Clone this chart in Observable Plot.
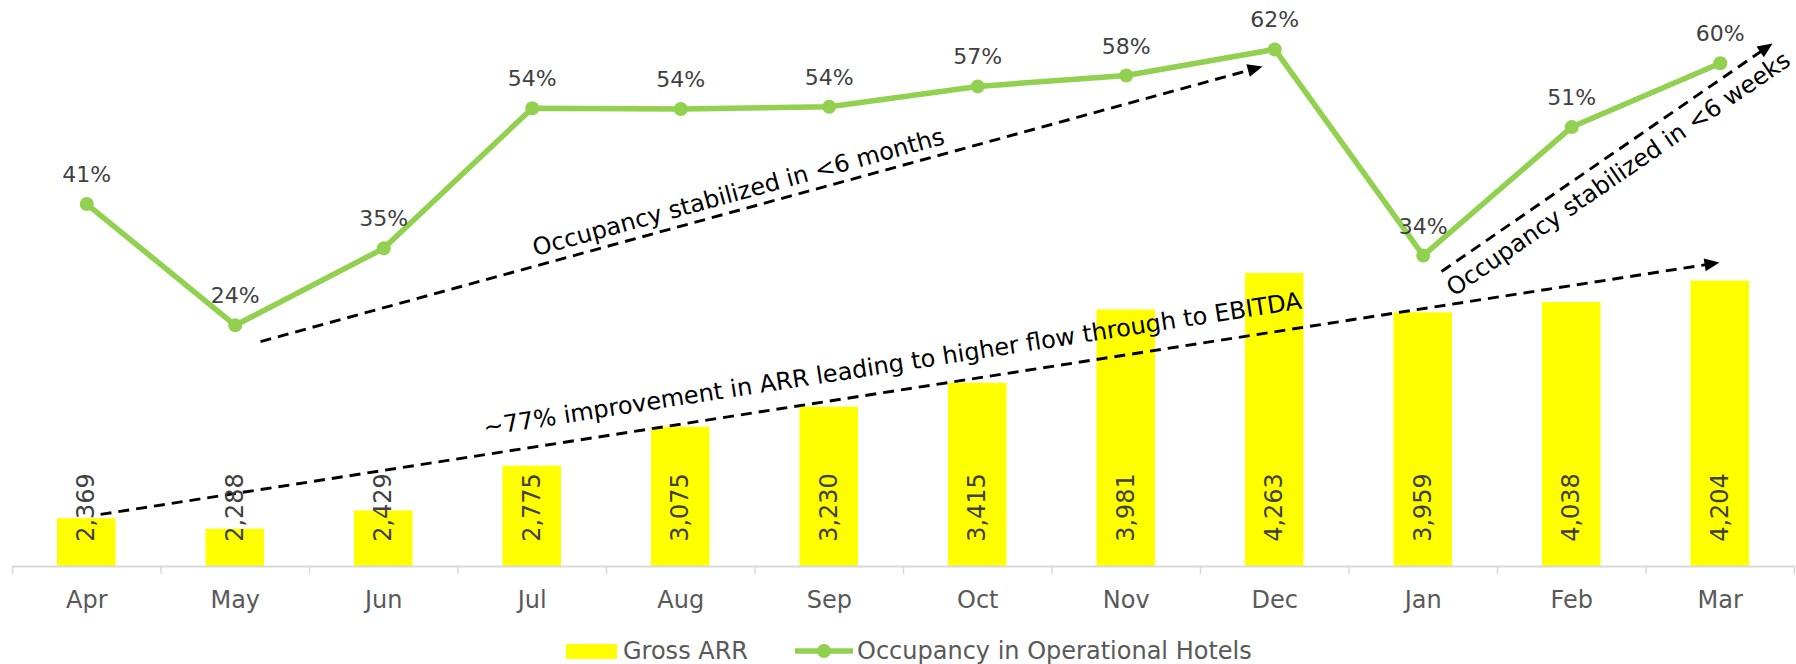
<!DOCTYPE html>
<html>
<head>
<meta charset="utf-8">
<script src="https://cdn.jsdelivr.net/npm/d3@7"></script>
<script src="https://cdn.jsdelivr.net/npm/@observablehq/plot@0.6"></script>
<style>
  html, body { margin: 0; padding: 0; background: #fff; overflow: hidden; }
  #chart svg { display: block; }
  #legend { height: 52px; display: flex; align-items: center; font-family: "DejaVu Sans"; font-size: 24px; color: #595959; white-space: nowrap; }
</style>
</head>
<body>
<div id="chart"></div>
<div id="legend"></div>
<script>
// ---- data ----
const months = ["Apr","May","Jun","Jul","Aug","Sep","Oct","Nov","Dec","Jan","Feb","Mar"];
const grossARR = [2369, 2288, 2429, 2775, 3075, 3230, 3415, 3981, 4263, 3959, 4038, 4204];
const occupancy = [0.407, 0.240, 0.346, 0.539, 0.538, 0.541, 0.569, 0.584, 0.620, 0.336, 0.513, 0.601];
const seriesNames = ["Gross ARR", "Occupancy in Operational Hotels"];

// annotations (x in month-slot units, y in ARR units)
const arrowDefs = [
  {x1: 1.670, y1: 3737, x2: 8.418, y2: 5861},
  {x1: 0.593, y1: 2402, x2: 11.495, y2: 4347},
  {x1: 9.623, y1: 4278, x2: 11.852, y2: 6039}
];
const annoTexts = [
  {arrow: 0, x: 4.889, y: 4888, text: "Occupancy stabilized in <6 months"},
  {arrow: 1, x: 5.926, y: 3560, text: "~77% improvement in ARR leading to higher flow through to EBITDA"},
  {arrow: 2, x: 10.815, y: 5030, text: "Occupancy stabilized in <6 weeks"}
];

// ---- layout ----
const W = 1796, H = 625;
const marginLeft = 12, marginRight = 2, marginTop = 48, marginBottom = 59;
const arrMin = 2000, arrMax = 6000;
// secondary (occupancy) axis expressed in primary-axis units
const occToArr = d3.scaleLinear().domain([0, 0.6]).range([2517, 5881]);

const green = "#92D050", yellow = "#FFFF00", grid = "#D9D9D9", labelGray = "#404040", axisGray = "#595959";

const data = months.map((m, i) => ({i, month: m, arr: grossARR[i], occ: occupancy[i]}));

const xScale = Plot.scale({x: {type: "linear", domain: [0, 12], range: [marginLeft, W - marginRight]}});
const yScale = Plot.scale({y: {domain: [arrMin, arrMax], range: [H - marginBottom, marginTop]}});
const headLen = 15;
const arrows = arrowDefs.map(d => {
  const px1 = xScale.apply(d.x1), py1 = yScale.apply(d.y1);
  const px2 = xScale.apply(d.x2), py2 = yScale.apply(d.y2);
  const L = Math.hypot(px2 - px1, py2 - py1);
  const ux = (px2 - px1) / L, uy = (py2 - py1) / L;
  return {
    ...d,
    xe: xScale.invert(px2 - ux * (headLen - 2)),
    ye: yScale.invert(py2 - uy * (headLen - 2)),
    angle: Math.atan2(uy, ux) * 180 / Math.PI
  };
});
const texts = annoTexts.map(t => ({...t, angle: arrows[t.arrow].angle}));

const arrowHead = {
  draw(ctx) {
    ctx.moveTo(0, 0);
    ctx.lineTo(6.5, headLen);
    ctx.lineTo(-6.5, headLen);
    ctx.closePath();
  }
};

const bounds = [...months.keys(), months.length];
const fmt = d3.format(",");

const chart = Plot.plot({
  width: W,
  height: H,
  marginLeft, marginRight, marginTop, marginBottom,
  style: {fontFamily: "DejaVu Sans", fontSize: "24px", background: "white", overflow: "visible"},
  x: {type: "linear", domain: [0, 12]},
  y: {domain: [arrMin, arrMax], axis: null},
  marks: [
    Plot.rectY(data, {x1: d => d.i, x2: d => d.i + 1, y1: () => arrMin, y2: "arr", fill: yellow, insetLeft: 45, insetRight: 45}),
    Plot.ruleY([arrMin], {stroke: grid, strokeWidth: 2}),
    Plot.ruleX(bounds, {x: d => d, y1: arrMin, y2: arrMin - 62, stroke: grid, strokeWidth: 1.5}),
    Plot.axisX({
      ticks: months.map((m, i) => i + 0.5),
      tickFormat: d => months[Math.floor(d)],
      tickSize: 0, tickPadding: 24, fontSize: 24, color: axisGray
    }),
    Plot.link(arrows, {x1: "x1", y1: "y1", x2: "xe", y2: "ye", stroke: "black", strokeWidth: 2.9, strokeDasharray: "11,7"}),
    Plot.dot(arrows, {x: "x2", y: "y2", symbol: arrowHead, rotate: d => d.angle + 90, fill: "black", stroke: "none"}),
    Plot.text(texts, {x: "x", y: "y", text: "text", rotate: "angle", fontSize: 24, fill: "black", textAnchor: "middle", lineAnchor: "middle"}),
    Plot.line(data, {x: d => d.i + 0.5, y: d => occToArr(d.occ), stroke: green, strokeWidth: 5.5, strokeLinejoin: "round"}),
    Plot.dot(data, {x: d => d.i + 0.5, y: d => occToArr(d.occ), r: 7, fill: green, stroke: "none"}),
    Plot.text(data, {x: d => d.i + 0.5, y: d => occToArr(d.occ), text: d => Math.round(d.occ * 100) + "%", lineAnchor: "bottom", dy: -22, fontSize: 22, fill: labelGray}),
    Plot.text(data, {x: d => d.i + 0.5, text: d => fmt(d.arr), frameAnchor: "bottom", dy: -59, rotate: -90, textAnchor: "middle", lineAnchor: "middle", fontSize: 24, fill: labelGray})
  ]
});
document.getElementById("chart").appendChild(chart);

// legend
const legend = document.getElementById("legend");
legend.innerHTML = `
  <span style="display:inline-block;width:51px;height:15px;background:${yellow};margin-left:566px"></span>
  <span style="margin-left:6px">${seriesNames[0]}</span>
  <svg width="58" height="16" style="margin-left:47px;display:block">
    <line x1="0" y1="8" x2="58" y2="8" stroke="${green}" stroke-width="5.5"/>
    <circle cx="29" cy="8" r="7" fill="${green}"/>
  </svg>
  <span style="margin-left:4px">${seriesNames[1]}</span>`;
</script>
</body>
</html>
